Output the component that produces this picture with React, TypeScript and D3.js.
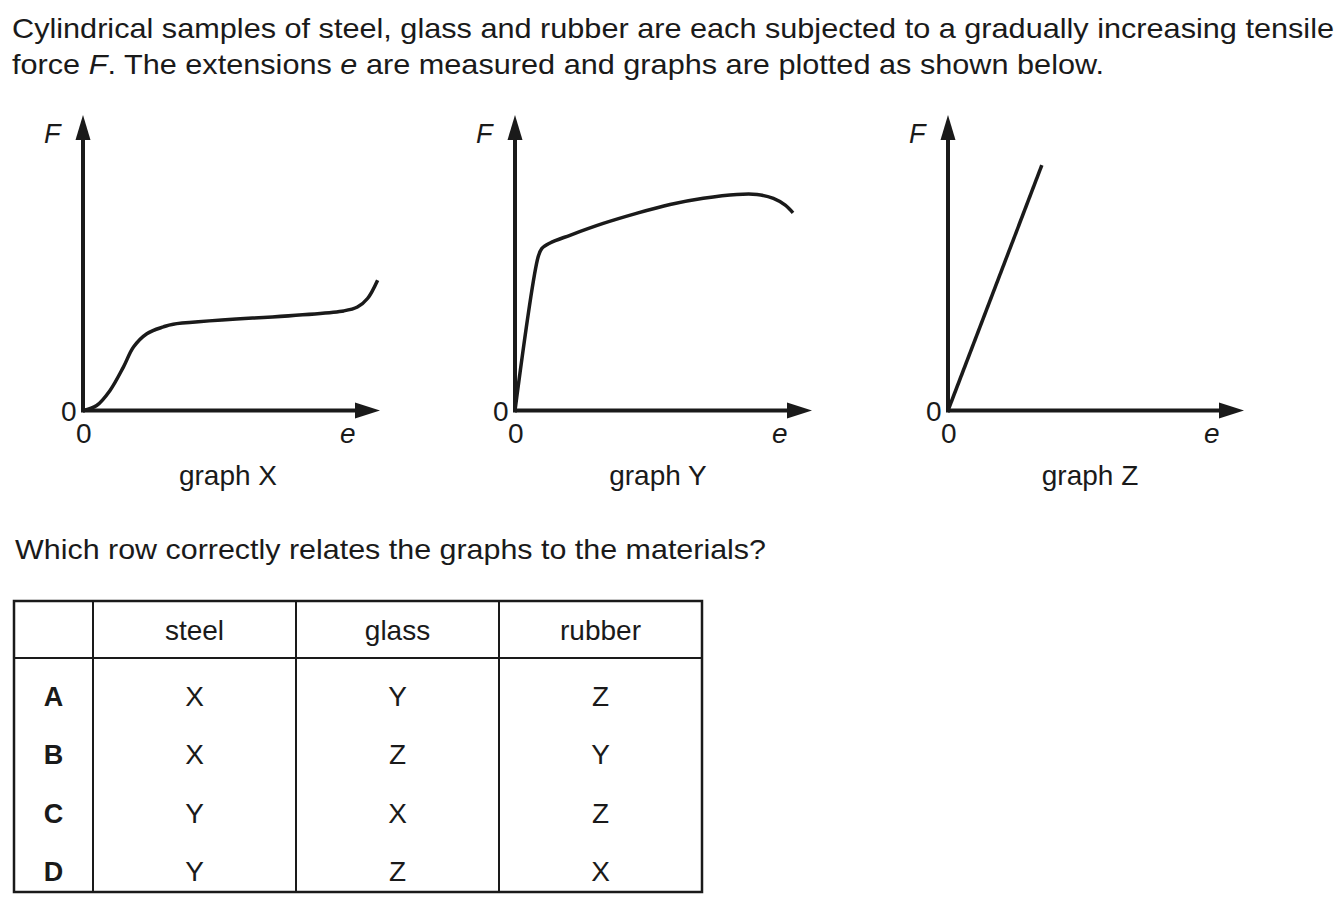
import React from 'react'
import * as d3 from 'd3'

// question text
const introLines = [
  'Cylindrical samples of steel, glass and rubber are each subjected to a gradually increasing tensile',
  'force F. The extensions e are measured and graphs are plotted as shown below.',
]
const question = 'Which row correctly relates the graphs to the materials?'

// force-extension curves (extension, force) in arbitrary units 0..10
const curveX: [number, number][] = [
  [0, 0], [0.46, 0.17], [0.91, 0.68], [1.36, 1.47], [1.7, 2.15], [2.15, 2.6],
  [2.71, 2.83], [3.04, 2.92], [8.78, 3.37], [9.24, 3.5], [9.58, 3.79], [9.92, 4.41],
]
const curveY: [number, number][] = [
  [0, 0], [0.78, 5.2], [0.9, 5.48], [1.18, 5.67], [1.85, 5.93], [2.97, 6.33],
  [4.09, 6.67], [5.22, 6.97], [6.34, 7.18], [7.47, 7.31], [8.15, 7.31],
  [8.7, 7.18], [9.1, 6.95], [9.36, 6.69],
]
const curveZ: [number, number][] = [[0, 0], [3.17, 8.3]]

const graphNames = ['graph X', 'graph Y', 'graph Z']

// table
const tableHeaders = ['', 'steel', 'glass', 'rubber']
const rowKeys = ['A', 'B', 'C', 'D']
const steelCol = ['X', 'X', 'Y', 'Y']
const glassCol = ['Y', 'Z', 'X', 'Z']
const rubberCol = ['Z', 'Y', 'Z', 'X']

const FONT = "'Liberation Sans', Arial, Helvetica, sans-serif"
const INK = '#1a1a1a'

// where each little graph sits on the page
const frames = [
  {ox: 83, oy: 410.5, xEnd: 380, labelX: 228},
  {ox: 515, oy: 410.5, xEnd: 812, labelX: 658},
  {ox: 948, oy: 410.5, xEnd: 1244, labelX: 1090},
]
const yTop = 115

function Graph({data, frame, name}: {data: [number, number][]; frame: any; name: string}) {
  const x = d3.scaleLinear().domain([0, 10]).range([frame.ox, frame.xEnd])
  const y = d3.scaleLinear().domain([0, 10]).range([frame.oy, yTop])
  const line = d3
    .line<[number, number]>()
    .x(d => x(d[0]))
    .y(d => y(d[1]))
    .curve(d3.curveCatmullRom.alpha(0.5))
  const ox = x(0)
  const oy = y(0)
  const xt = x(10)
  const yt = y(10)
  return (
    <g>
      {/* axes */}
      <line x1={ox} y1={oy} x2={xt - 20} y2={oy} stroke={INK} strokeWidth={4} />
      <line x1={ox} y1={oy + 2} x2={ox} y2={yt + 20} stroke={INK} strokeWidth={4} />
      <polygon points={`${xt},${oy} ${xt - 25},${oy - 8} ${xt - 25},${oy + 8}`} fill={INK} />
      <polygon points={`${ox},${yt} ${ox - 7.5},${yt + 25} ${ox + 7.5},${yt + 25}`} fill={INK} />
      <path d={line(data) || ''} fill="none" stroke={INK} strokeWidth={3.5} />
      {/* labels */}
      <text x={ox - 39} y={yt + 28} fontSize={27} fontStyle="italic" fill={INK}>F</text>
      <text x={ox - 22} y={oy + 10} fontSize={28} fill={INK}>0</text>
      <text x={ox - 7} y={oy + 32} fontSize={28} fill={INK}>0</text>
      <text x={xt - 40} y={oy + 32} fontSize={28} fontStyle="italic" fill={INK}>e</text>
      <text x={frame.labelX} y={oy + 74} fontSize={28} textAnchor="middle" fill={INK}>{name}</text>
    </g>
  )
}

export default function App() {
  const cols = d3.scaleOrdinal<number, number>().domain([0, 1, 2, 3, 4]).range([14, 93, 296, 499, 702])
  const rowY = d3.scalePoint<string>().domain(rowKeys).range([706, 881])
  const cells = [steelCol, glassCol, rubberCol]
  const colMid = (i: number) => (cols(i) + cols(i + 1)) / 2

  return (
    <svg
      width={1342}
      height={910}
      style={{position: 'absolute', left: 0, top: 0, background: '#fff'}}
      fontFamily={FONT}>
      <text x={12} y={38} fontSize={28} textLength={1322} lengthAdjust="spacingAndGlyphs" fill={INK}>
        {introLines[0]}
      </text>
      <text x={12} y={74} fontSize={28} textLength={1092} lengthAdjust="spacingAndGlyphs" fill={INK}>
        force <tspan fontStyle="italic">F</tspan>. The extensions <tspan fontStyle="italic">e</tspan> are measured
        and graphs are plotted as shown below.
      </text>

      <Graph data={curveX} frame={frames[0]} name={graphNames[0]} />
      <Graph data={curveY} frame={frames[1]} name={graphNames[1]} />
      <Graph data={curveZ} frame={frames[2]} name={graphNames[2]} />

      <text x={15} y={559} fontSize={28} textLength={751} lengthAdjust="spacingAndGlyphs" fill={INK}>
        {question}
      </text>

      {/* table */}
      <rect x={14} y={601} width={688} height={291} fill="none" stroke={INK} strokeWidth={2.5} />
      <line x1={14} y1={658} x2={702} y2={658} stroke={INK} strokeWidth={2} />
      {[1, 2, 3].map(i => (
        <line key={i} x1={cols(i)} y1={601} x2={cols(i)} y2={892} stroke={INK} strokeWidth={2} />
      ))}
      {tableHeaders.map((h, i) =>
        i === 0 ? null : (
          <text key={h} x={colMid(i)} y={640} fontSize={28} textAnchor="middle" fill={INK}>
            {h}
          </text>
        ),
      )}
      {rowKeys.map((k, r) => (
        <g key={k}>
          <text x={colMid(0)} y={rowY(k)} fontSize={27} fontWeight="bold" textAnchor="middle" fill={INK}>
            {k}
          </text>
          {cells.map((col, c) => (
            <text key={c} x={colMid(c + 1)} y={rowY(k)} fontSize={28} textAnchor="middle" fill={INK}>
              {col[r]}
            </text>
          ))}
        </g>
      ))}
    </svg>
  )
}
